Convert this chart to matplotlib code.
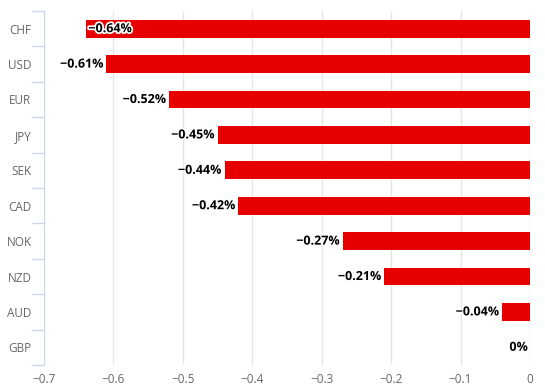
import matplotlib.pyplot as plt
import matplotlib.patheffects as pe

currencies = ['CHF', 'USD', 'EUR', 'JPY', 'SEK', 'CAD', 'NOK', 'NZD', 'AUD', 'GBP']
changes = [-0.64, -0.61, -0.52, -0.45, -0.44, -0.42, -0.27, -0.21, -0.04, 0.0]
xticks = [-0.7, -0.6, -0.5, -0.4, -0.3, -0.2, -0.1, 0]

plt.rcParams['font.family'] = ['Open Sans', 'DejaVu Sans']

fig = plt.figure(figsize=(5.45, 3.92), dpi=100)
ax = fig.add_axes([44 / 545, 27 / 392, 486 / 545, 354 / 392])

pos = list(range(len(currencies)))
ax.barh(pos, changes, height=0.5, color='#e60000', zorder=2)
ax.set_ylim(len(currencies) - 0.5, -0.5)
ax.set_xlim(-0.7, 0)

ax.set_xticks(xticks)
ax.set_xticklabels(['\u22120.7', '\u22120.6', '\u22120.5', '\u22120.4', '\u22120.3',
                    '\u22120.2', '\u22120.1', '0'])
ax.grid(axis='x', color='#e6e6e6', linewidth=1, zorder=0)
ax.tick_params(axis='x', length=0, colors='#666666', labelsize=8.5, pad=6)

ax.set_yticks(pos)
ax.set_yticklabels(currencies)
ax.tick_params(axis='y', length=0, colors='#666666', labelsize=8.5, pad=9)
# category boundary ticks
ax.set_yticks([p + 0.5 for p in range(-1, len(currencies))], minor=True)
ax.tick_params(axis='y', which='minor', length=9, color='#ccd6eb', width=1)

for s in ['top', 'right', 'bottom']:
    ax.spines[s].set_visible(False)
ax.spines['left'].set_color('#ccd6eb')

halo = [pe.withStroke(linewidth=2.5, foreground='white')]
for i, v in enumerate(changes):
    label = '0%' if v == 0 else '\u2212%.2f%%' % abs(v)
    if v < -0.62:
        ax.text(v + 0.004, i, label, ha='left', va='center', fontsize=9,
                fontweight='bold', color='black', path_effects=halo, zorder=3)
    elif v == 0:
        ax.text(-0.003, i, label, ha='right', va='center', fontsize=9,
                fontweight='bold', color='black', path_effects=halo, zorder=3)
    else:
        ax.text(v - 0.004, i, label, ha='right', va='center', fontsize=9,
                fontweight='bold', color='black', path_effects=halo, zorder=3)

fig.savefig('out.png', dpi=100)
